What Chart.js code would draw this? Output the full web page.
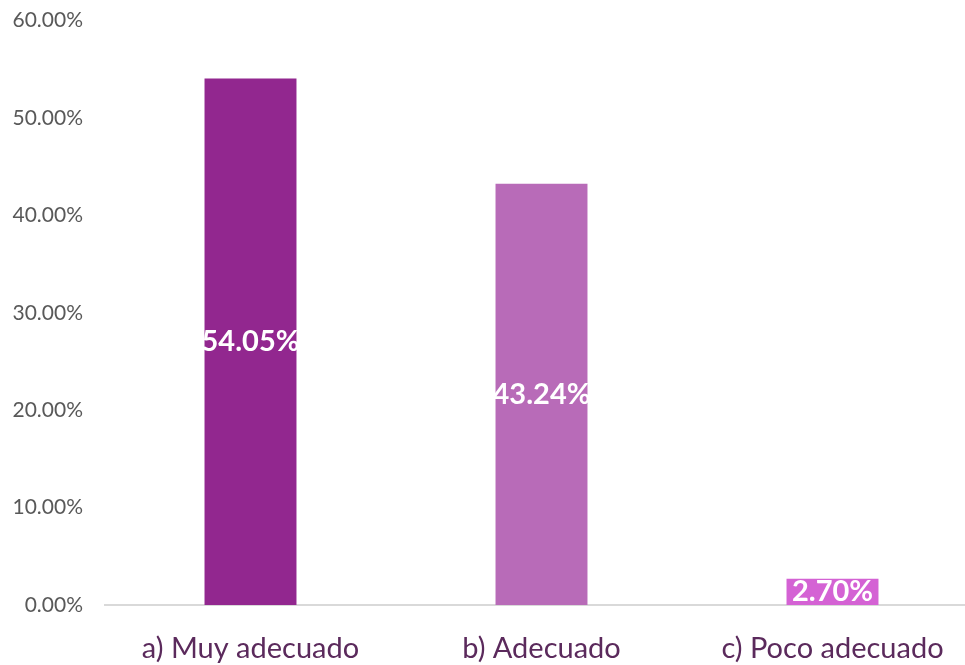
<!DOCTYPE html>
<html>
<head>
<meta charset="utf-8">
<script src="https://cdn.jsdelivr.net/npm/chart.js@4"></script>
<style>
html,body{margin:0;padding:0;background:#fff;overflow:hidden}
#wrap{width:980px;height:679px;margin-top:-14px}
</style>
</head>
<body>
<div id="wrap"><canvas id="chart"></canvas></div>
<script>
const categories=['a) Muy adecuado','b) Adecuado','c) Poco adecuado']
const values=[54.05,43.24,2.70]
const barColors=['#92278F','#B86BB8','#D462D4']
const yTicks=[0,10,20,30,40,50,60]

// white value labels in the middle of each bar
const valueLabels={
id:'valueLabels',
afterDatasetsDraw(chart){
const ctx=chart.ctx
const meta=chart.getDatasetMeta(0)
ctx.save()
ctx.fillStyle='#fff'
ctx.font='bold 29px Lato'
ctx.textAlign='center'
ctx.textBaseline='middle'
meta.data.forEach((bar,i)=>{
const y=(bar.y+bar.base)/2
ctx.fillText(values[i].toFixed(2)+'%',bar.x,y)
})
ctx.restore()
}
}

new Chart(document.getElementById('chart'),{
type:'bar',
data:{
labels:categories,
datasets:[{
data:values,
backgroundColor:barColors,
barPercentage:0.316,
categoryPercentage:1
}]
},
options:{
responsive:true,
maintainAspectRatio:false,
animation:false,
layout:{padding:{top:0,left:0,right:2,bottom:0}},
plugins:{legend:{display:false},tooltip:{enabled:false}},
scales:{
x:{
afterFit(scale){scale.height=60},
grid:{display:false,drawTicks:false},
border:{color:'#d9d9d9',width:2},
ticks:{color:'#5B2A5C',font:{family:'Lato',size:29},padding:26}
},
y:{
min:0,max:60,
afterBuildTicks(scale){scale.ticks=yTicks.map(v=>({value:v}))},
afterFit(scale){scale.width=105},
grid:{display:false,drawTicks:false},
border:{display:false},
ticks:{color:'#595959',font:{family:'Lato',size:21},padding:22,
callback:v=>v.toFixed(2)+'%'}
}
}
},
plugins:[valueLabels]
})
</script>
</body>
</html>
